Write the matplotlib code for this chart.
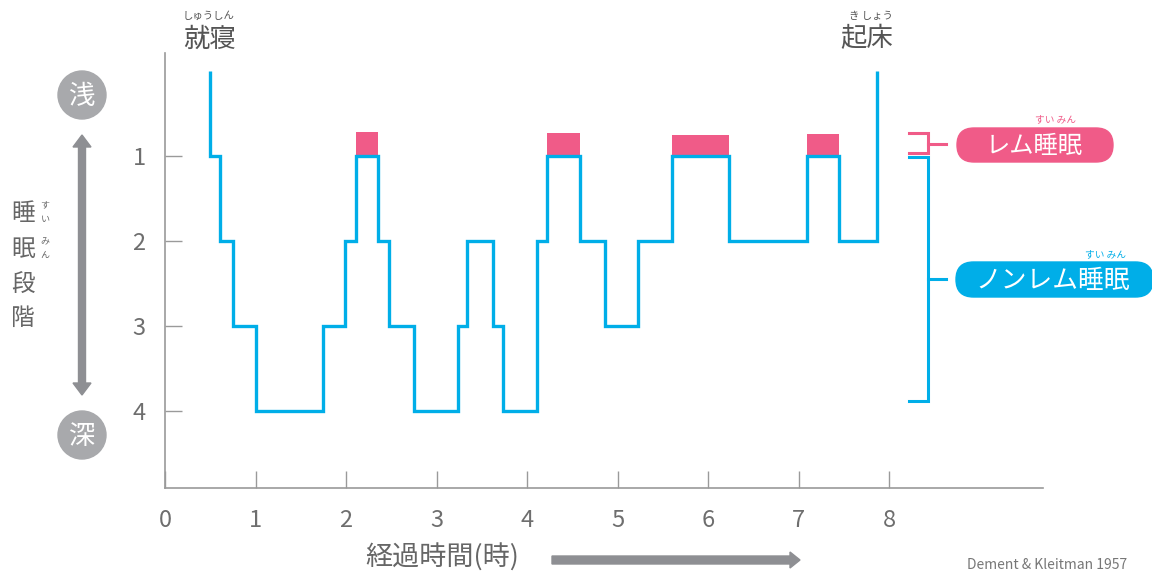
import matplotlib
matplotlib.use("Agg")
import matplotlib.pyplot as plt
from matplotlib.patches import FancyBboxPatch, Circle, Polygon
from matplotlib.lines import Line2D

plt.rcParams['font.family'] = ['Noto Sans CJK JP', 'DejaVu Sans']

# ---- data ----
# transition times (hours) and sleep stage after each transition (0 = awake)
hours = [0.50, 0.50, 0.61, 0.75, 1.00, 1.75, 1.99, 2.11, 2.35, 2.47, 2.75, 3.24,
         3.34, 3.62, 3.73, 4.11, 4.22, 4.59, 4.86, 5.23, 5.60, 6.23, 7.09, 7.45,
         7.87, 7.87]
stages = [0, 1, 2, 3, 4, 3, 2, 1, 2, 3, 4, 3,
          2, 3, 4, 2, 1, 2, 3, 2, 1, 2, 1, 2,
          0, 0]
# REM periods (start, end) and top of the REM marker
rem_start = [2.11, 4.22, 5.60, 7.09]
rem_end = [2.35, 4.59, 6.23, 7.45]
rem_top = [0.72, 0.73, 0.75, 0.74]

x_ticks = [0, 1, 2, 3, 4, 5, 6, 7, 8]
x_tick_labels = ['0', '1', '2', '3', '4', '5', '6', '7', '8']
y_ticks = [1, 2, 3, 4]
y_tick_labels = ['1', '2', '3', '4']

BLUE = '#00aee8'
PINK = '#f05b88'
GRAY_AX = '#9a9a9a'
GRAY_TXT = '#666666'

W, H = 1152, 575
fig = plt.figure(figsize=(W / 100, H / 100), dpi=100)
fig.patch.set_facecolor('white')

# main axes
ax = fig.add_axes([165 / W, (H - 488) / H, 878 / W, 435 / H])
ax.set_xlim(0, 878 / 90.5)
ax.set_ylim(4.906, -0.212)
ax.patch.set_alpha(0)

rem_w = [e - s for s, e in zip(rem_start, rem_end)]
rem_h = [t - 1 for t in rem_top]
ax.bar(rem_start, rem_h, width=rem_w, bottom=1, align='edge', color=PINK,
       edgecolor='none', zorder=2)
ax.step(hours, stages, where='post', color=BLUE, lw=2.4, zorder=3,
        solid_joinstyle='miter', solid_capstyle='butt')

for s in ['top', 'right']:
    ax.spines[s].set_visible(False)
for s in ['left', 'bottom']:
    ax.spines[s].set_color(GRAY_AX)
    ax.spines[s].set_linewidth(1.2)

ax.set_xticks(x_ticks)
ax.set_xticklabels(x_tick_labels)
ax.set_yticks(y_ticks)
ax.set_yticklabels(y_tick_labels)
ax.tick_params(axis='both', direction='in', length=12.5, width=1.0,
               color=GRAY_AX, labelcolor='#6e6e6e', labelsize=17)
ax.tick_params(axis='y', pad=14)
ax.tick_params(axis='x', pad=15)

# overlay in pixel coordinates for annotations
ov = fig.add_axes([0, 0, 1, 1])
ov.set_xlim(0, W)
ov.set_ylim(H, 0)
ov.axis('off')

# top labels
ov.text(210, 39, '就寝', ha='center', va='center', fontsize=19, color='#555555')
ov.text(208, 16, 'しゅうしん', ha='center', va='center', fontsize=7.5, color='#555555')
ov.text(867, 39, '起床', ha='center', va='center', fontsize=19, color='#555555')
ov.text(871, 16, 'き しょう', ha='center', va='center', fontsize=7.5, color='#555555')

# left: circles, arrow, vertical label
CIRC = '#a8a9ac'
ov.add_patch(Circle((82, 95), 24, color=CIRC))
ov.text(82, 96, '浅', ha='center', va='center', fontsize=19, color='white')
ov.add_patch(Circle((82, 435), 24, color=CIRC))
ov.text(82, 436, '深', ha='center', va='center', fontsize=19, color='white')
ARR = '#8e8f93'
ov.add_patch(Polygon([(78.5, 147), (73, 147), (82, 135), (91, 147), (85.5, 147),
                      (85.5, 383), (91, 383), (82, 395), (73, 383), (78.5, 383)],
                     closed=True, color=ARR))
for ch, yy in zip('睡眠段階', [213, 249, 285, 318]):
    ov.text(23, yy, ch, ha='center', va='center', fontsize=17, color=GRAY_TXT)
for ch, yy in zip('すいみん', [205, 220, 242, 255]):
    ov.text(45, yy, ch, ha='center', va='center', fontsize=6.5, color=GRAY_TXT)

# x-axis label and arrow
ov.text(442, 558, '経過時間(時)', ha='center', va='center', fontsize=19.5, color=GRAY_TXT)
ov.add_patch(Polygon([(552, 556), (790, 556), (790, 552), (800, 560), (790, 568),
                      (790, 564), (552, 564)], closed=True, color=ARR))

# brackets
def bracket(y0, y1, ym, color):
    ov.add_line(Line2D([909, 928, 928, 909], [y0, y0, y1, y1], color=color, lw=2.2,
                       solid_joinstyle='miter'))
    ov.add_line(Line2D([928, 946], [ym, ym], color=color, lw=2.2))

bracket(133, 153, 144, PINK)
bracket(157, 401, 279, BLUE)

# pills
ov.add_patch(FancyBboxPatch((957, 128), 156, 34,
                            boxstyle='round,pad=0,rounding_size=17', color=PINK))
ov.text(1034, 146, 'レム睡眠', ha='center', va='center', fontsize=17.5, color='white')
ov.text(1056, 119, 'すい みん', ha='center', va='center', fontsize=7, color=PINK)

ov.add_patch(FancyBboxPatch((956, 262), 197, 35,
                            boxstyle='round,pad=0,rounding_size=17.5', color=BLUE))
ov.text(1053, 281, 'ノンレム睡眠', ha='center', va='center', fontsize=18.5, color='white')
ov.text(1106, 254, 'すい みん', ha='center', va='center', fontsize=7, color=BLUE)

# citation
ov.text(967, 572, 'Dement & Kleitman 1957', ha='left', va='bottom', fontsize=10,
        color='#777777')

fig.savefig('out.png', dpi=100)
